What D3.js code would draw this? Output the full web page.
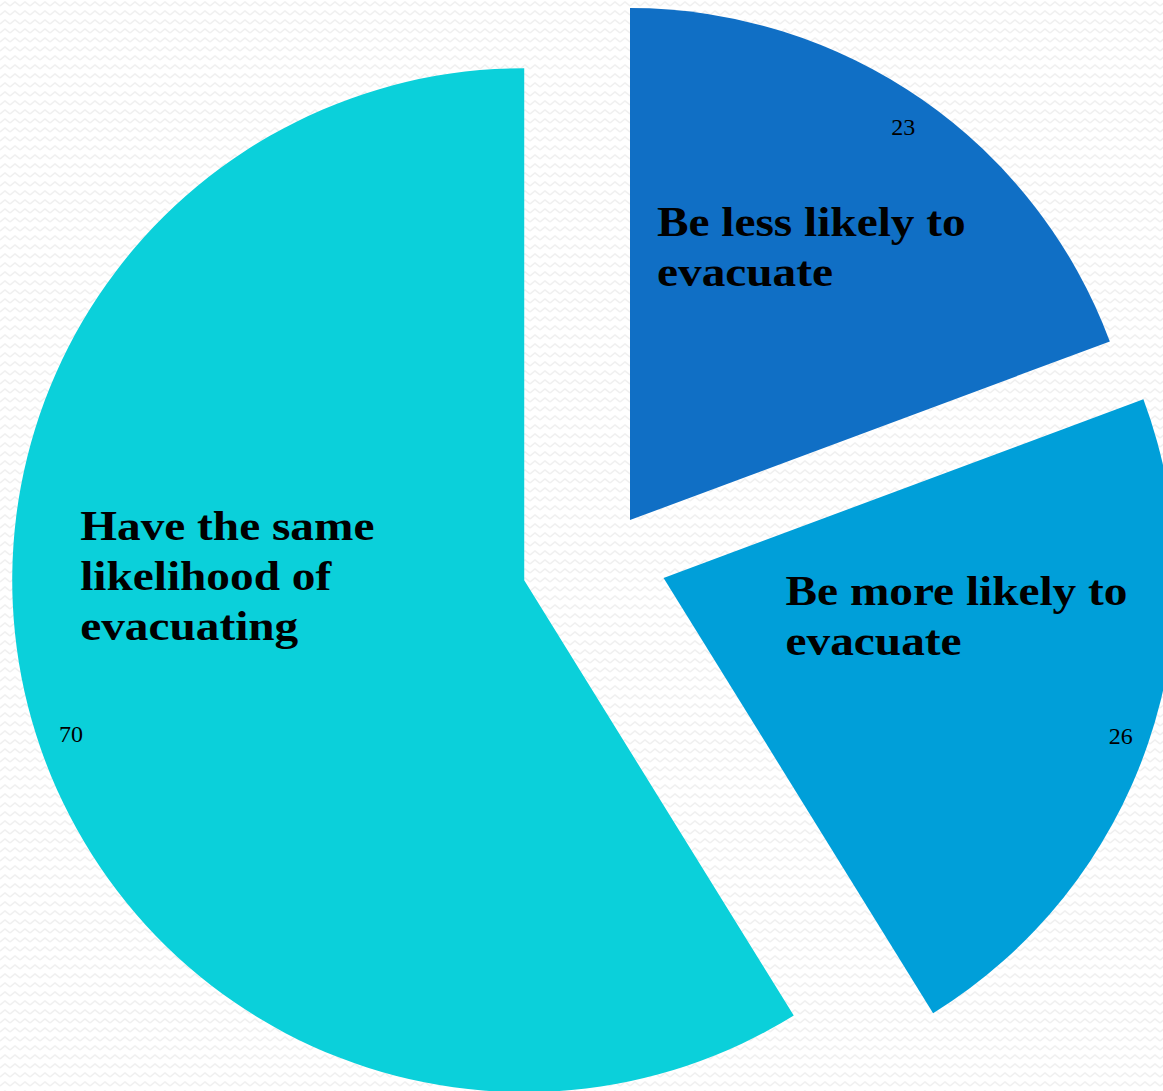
<!DOCTYPE html>
<html><head><meta charset="utf-8">
<script src="https://cdn.jsdelivr.net/npm/d3@7"></script>
<style>html,body{margin:0;padding:0;background:#fff;overflow:hidden} svg{display:block}</style>
</head><body>
<script>
// ---- data ----
const categories = ["Be less likely to evacuate", "Be more likely to evacuate", "Have the same likelihood of evacuating"];
const labelLines = [["Be less likely to", "evacuate"], ["Be more likely to", "evacuate"], ["Have the same", "likelihood of", "evacuating"]];
const values = [23, 26, 70];

// ---- style / layout ----
const colors = ["#106fc5", "#009fd9", "#0bd0da"];
const W = 1163, H = 1091;
const cx = 604, cy = 557.5, R = 512;
const explodeFrac = [0.089, 0.123, 0.162];
const nameOffset = [[27, -284], [122, 27], [-444, -40]];   // from slice apex
const valueNudgeDeg = [0, 0.2, -2.9];
const valueRadiusFrac = [0.935, 0.945, 0.935];

const svg = d3.select("body").append("svg").attr("width", W).attr("height", H);

// background zigzag pattern
const defs = svg.append("defs");
const pat = defs.append("pattern").attr("id", "zz").attr("patternUnits", "userSpaceOnUse")
  .attr("width", 10).attr("height", 9);
pat.append("rect").attr("width", 10).attr("height", 9).attr("fill", "#ffffff");
pat.append("path").attr("d", "M0,6 L5,2 L10,6").attr("fill", "none")
  .attr("stroke", "#f0f0f0").attr("stroke-width", 1.5);
svg.append("rect").attr("width", W).attr("height", H).attr("fill", "url(#zz)");

const pie = d3.pie().sort(null).value(d => d);
const arcs = pie(values);
const arc = d3.arc().innerRadius(0).outerRadius(R);

const g = svg.append("g").attr("transform", `translate(${cx},${cy})`);

const slices = g.selectAll("g.slice").data(arcs).join("g").attr("class", "slice")
  .attr("transform", (d, i) => {
    const m = (d.startAngle + d.endAngle) / 2, e = explodeFrac[i] * R;
    return `translate(${Math.sin(m) * e},${-Math.cos(m) * e})`;
  });

slices.append("path").attr("d", arc).attr("fill", (d, i) => colors[i]);

// value labels
const valAngle = (d, i) => (d.startAngle + d.endAngle) / 2 + valueNudgeDeg[i] * Math.PI / 180;
slices.append("text")
  .attr("x", (d, i) => Math.sin(valAngle(d, i)) * R * valueRadiusFrac[i])
  .attr("y", (d, i) => -Math.cos(valAngle(d, i)) * R * valueRadiusFrac[i])
  .attr("dy", "0.32em")
  .attr("text-anchor", "middle")
  .attr("font-family", "'Liberation Serif', 'DejaVu Serif', serif")
  .attr("font-size", 24)
  .attr("fill", "#000")
  .text(d => d.data);

// category labels
slices.append("text")
  .attr("transform", (d, i) => `translate(${nameOffset[i][0]},${nameOffset[i][1]}) scale(1.1,1)`)
  .attr("font-family", "'Liberation Serif', 'DejaVu Serif', serif")
  .attr("font-weight", "bold")
  .attr("font-size", 43)
  .attr("fill", "#000")
  .selectAll("tspan").data((d, i) => labelLines[i]).join("tspan")
  .attr("x", 0).attr("dy", (d, j) => j === 0 ? 0 : 50)
  .text(d => d);
</script>
</body></html>
